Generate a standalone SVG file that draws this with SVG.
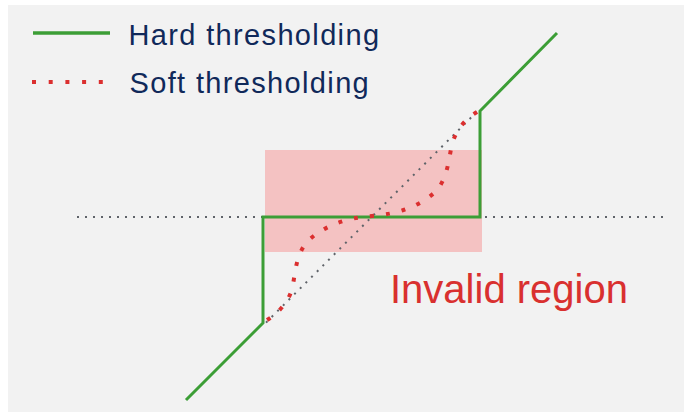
<svg xmlns="http://www.w3.org/2000/svg" width="684" height="412" viewBox="0 0 684 412">
  <style>
    .lbl { font-family: "Liberation Sans", Arial, sans-serif; }
    .legend { font-size: 29px; letter-spacing: 1.35px; fill: #10295a; }
    .hard { fill: none; stroke: #3c9e36; stroke-width: 3; stroke-linejoin: miter; }
    .soft { fill: none; stroke: #db2f2f; stroke-width: 4; stroke-dasharray: 4 12; }
    .guide { fill: none; stroke: #5f6369; stroke-width: 2; stroke-dasharray: 2 6; }
  </style>
  <rect x="0" y="0" width="684" height="412" fill="#ffffff"/>
  <rect x="8" y="5" width="676" height="407" fill="#f2f2f2"/>

  <g id="invalid-region">
    <rect x="265" y="150" width="217" height="102" fill="#f4c2c2"/>
    <text class="lbl" x="390" y="303" font-size="40" fill="#d9302f">Invalid region</text>
  </g>

  <g id="connectors">
    <line class="guide" x1="77" y1="217" x2="666" y2="217"/>
    <line class="guide" x1="266" y1="322.6" x2="479" y2="109.6"/>
    <path id="hard-curve" class="hard" d="M186,400 L263,323 L263,217 L480,217 L480,111 L557,33"/>
    <path id="soft-curve" class="soft" d="M267,320 C280,312 290,300 293,285 C296,265 298,250 310,239 C325,226 345,218 372,216 C399,214 419,206 434,193 C446,182 448,165 451,149 C454,132 464,120 477,112"/>
  </g>

  <g id="legend-hard">
    <line class="hard" x1="33" y1="33" x2="110" y2="33" style="stroke-width:3.5"/>
    <text class="lbl legend" x="128.5" y="45">Hard thresholding</text>
  </g>
  <g id="legend-soft">
    <line class="soft" x1="32" y1="82" x2="108" y2="82" style="stroke-dasharray:4 12.7"/>
    <text class="lbl legend" x="129.5" y="93">Soft thresholding</text>
  </g>
</svg>
